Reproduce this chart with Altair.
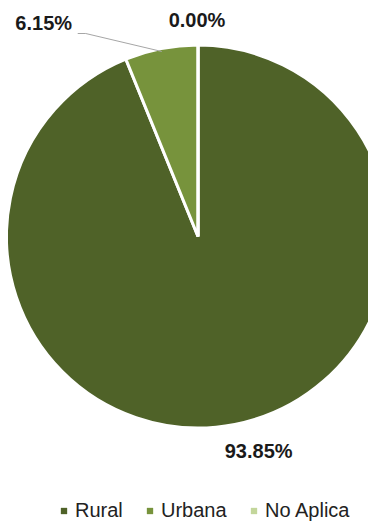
import math
import altair as alt
import pandas as pd

categories = ["Rural", "Urbana", "No Aplica"]
values = [93.85, 6.15, 0.00]
labels = ["93.85%", "6.15%", "0.00%"]
colors = ["#4F6228", "#77933C", "#C3D69B"]

W, H = 360, 517
CX, CY, R = 190, 228.5, 191.5
FONT = "Liberation Sans"

df = pd.DataFrame({"cat": categories, "val": values, "label": labels,
                   "idx": list(range(len(categories)))})

# label placement derived from the data's cumulative angles
total = sum(values)
cum = 0.0
mids = []
for v in values:
    mids.append((cum + v / 2) / total * 2 * math.pi)
    cum += v
lab_r = [222, 215, 216]
lab_off = [(18, -2), (-113, -2), (-1, 0)]
lx, ly = [], []
for m, r, (ox, oy) in zip(mids, lab_r, lab_off):
    lx.append(CX + r * math.sin(m) + ox)
    ly.append(CY - r * math.cos(m) + oy)
df["lx"] = lx
df["ly"] = ly

# leader line for the small slice label
m = mids[1]
lead = pd.DataFrame({
    "x": [lx[1] + 34, lx[1] + 42, CX + (R - 3) * math.sin(m)],
    "y": [ly[1] + 10, ly[1] + 10, CY - (R - 3) * math.cos(m)],
    "o": [0, 1, 2],
})

color_scale = alt.Scale(domain=categories, range=colors)

pie = alt.Chart(df).mark_arc(stroke="white", strokeWidth=3, radius=R).encode(
    theta=alt.Theta("val:Q", stack=True),
    color=alt.Color("cat:N", scale=color_scale, sort=categories,
                    legend=alt.Legend(title=None, orient="none", direction="horizontal",
                                      legendX=46, legendY=493, symbolType="square",
                                      symbolSize=40, symbolStrokeWidth=0,
                                      labelFont=FONT, labelFontSize=20,
                                      labelColor="#222222", labelOffset=1,
                                      columnPadding=17, padding=0)),
    order=alt.Order("idx:Q"),
    x=alt.value(CX),
    y=alt.value(CY),
)

line = alt.Chart(lead).mark_line(color="#A6A6A6", strokeWidth=1).encode(
    x=alt.X("x:Q", scale=None),
    y=alt.Y("y:Q", scale=None),
    order="o:Q",
)

text = alt.Chart(df).mark_text(font=FONT, fontSize=20, fontWeight="bold",
                               color="#1a1a1a", baseline="middle", align="center").encode(
    x=alt.X("lx:Q", scale=None),
    y=alt.Y("ly:Q", scale=None),
    text="label:N",
)

chart = alt.layer(pie, line, text).properties(
    width=W, height=H, padding=0,
    autosize=alt.AutoSizeParams(type="none"),
).configure_view(stroke=None)

chart.save("out.html", embed_options={"renderer": "svg", "actions": False})
